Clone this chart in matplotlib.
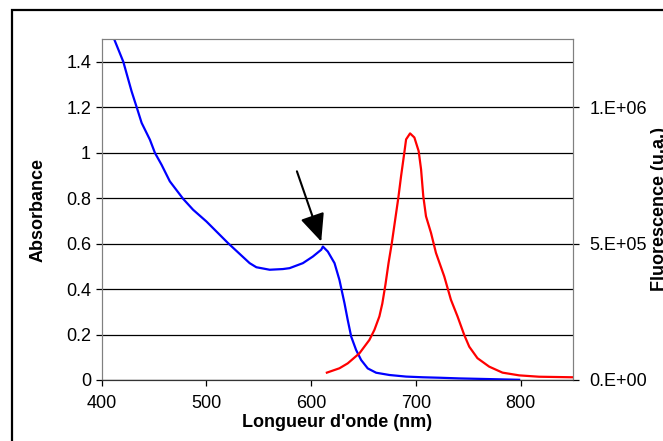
import matplotlib.pyplot as plt
from matplotlib.patches import Rectangle
from matplotlib.ticker import FormatStrFormatter

plt.rcParams['font.family'] = ['Liberation Sans', 'DejaVu Sans']

# Absorbance spectrum (blue, left axis)
abs_nm = [412.2, 420.8, 428.7, 433.5, 438.3, 446.2, 451, 457.3, 465.2, 477.9,
          487.4, 500.2, 520.8, 541.4, 547.8, 560.5, 573.1, 579.5, 592.2, 601.7,
          609.7, 611.3, 616, 622.4, 627.1, 631.9, 635, 638.3, 643, 647.8, 654.1,
          662.1, 674.8, 690.7, 706.5, 722.4, 741.4, 770, 798.6]
absorbance = [1.498, 1.400, 1.270, 1.201, 1.131, 1.057, 0.999, 0.947, 0.874,
              0.797, 0.749, 0.697, 0.602, 0.514, 0.496, 0.485, 0.488, 0.492,
              0.514, 0.543, 0.573, 0.587, 0.565, 0.514, 0.440, 0.338, 0.264,
              0.191, 0.132, 0.088, 0.051, 0.032, 0.022, 0.015, 0.012, 0.010,
              0.007, 0.004, 0.001]

# Fluorescence spectrum (red, right axis)
fluo_nm = [615.1, 627.1, 635, 646.2, 655.7, 660.5, 665.2, 668, 671, 674,
           677, 680, 683.3, 685.9, 689, 690.7, 694.5, 698.6, 702.7, 705, 707.1,
           709.7, 714.5, 719.2, 727.1, 733.5, 739.8, 746.2, 751, 758.8, 770,
           782.7, 798.6, 817.6, 849.3]
fluorescence = [2.7e4, 4.3e4, 6.1e4, 9.8e4, 1.47e5, 1.84e5, 2.33e5, 2.8e5,
                3.5e5, 4.3e5, 5.0e5, 5.8e5, 6.68e5, 7.47e5, 8.33e5, 8.82e5,
                9.04e5, 8.89e5, 8.39e5, 7.72e5, 6.74e5, 6.0e5, 5.39e5, 4.66e5,
                3.8e5, 2.94e5, 2.33e5, 1.65e5, 1.22e5, 8.0e4, 4.9e4, 2.7e4,
                1.7e4, 1.2e4, 1.0e4]

abs_ticks = [0, 0.2, 0.4, 0.6, 0.8, 1.0, 1.2, 1.4]
fluo_ticks = [0, 5e5, 1e6]
fluo_labels = ['0.E+00', '5.E+05', '1.E+06']
x_ticks = [400, 500, 600, 700, 800]

fig = plt.figure(figsize=(6.63, 4.41), dpi=100)
ax = fig.add_axes([101.5 / 663, 61 / 441, 471.5 / 663, 341 / 441])
ax2 = ax.twinx()

ax.plot(abs_nm, absorbance, color='#0000ff', lw=1.6)
ax2.plot(fluo_nm, fluorescence, color='#ff0000', lw=1.6)

ax.set_xlim(400, 850)
ax.set_ylim(0, 1.5)
ax2.set_ylim(0, 1.25e6)

ax.set_xticks(x_ticks)
ax.set_yticks(abs_ticks)
ax.yaxis.set_major_formatter(FormatStrFormatter('%g'))
ax2.set_yticks(fluo_ticks)
ax2.set_yticklabels(fluo_labels)

ax.grid(axis='y', color='black', lw=0.9)
ax.set_axisbelow(True)

for a in (ax, ax2):
    a.tick_params(direction='out', length=4, width=0.9, labelsize=13, colors='black')
    for side in ('left', 'right', 'top'):
        a.spines[side].set_color('#808080')
    a.spines['bottom'].set_color('#333333')
ax.tick_params(axis='x', pad=7)
ax2.tick_params(axis='y', pad=8)

ax.set_xlabel("Longueur d'onde (nm)", fontsize=13, fontweight='bold', labelpad=1)
ax.set_ylabel('Absorbance', fontsize=13, fontweight='bold', labelpad=14)
fig.text(651 / 663, 0.525, 'Fluorescence (u.a.)', rotation=90, fontsize=13,
         fontweight='bold', ha='left', va='center')

ax.annotate('', xy=(609.7, 0.609), xytext=(586.5, 0.918),
            arrowprops=dict(arrowstyle='-|>,head_length=0.85,head_width=0.38',
                            color='black', lw=1.5, mutation_scale=20,
                            shrinkA=0, shrinkB=0))

# outer frame
fig.patches.append(Rectangle((11.8 / 663, -0.05), 1.0, 1 - 10 / 441 + 0.05,
                             transform=fig.transFigure, fill=False,
                             edgecolor='black', lw=1.6))

fig.savefig('out.png', dpi=100)
